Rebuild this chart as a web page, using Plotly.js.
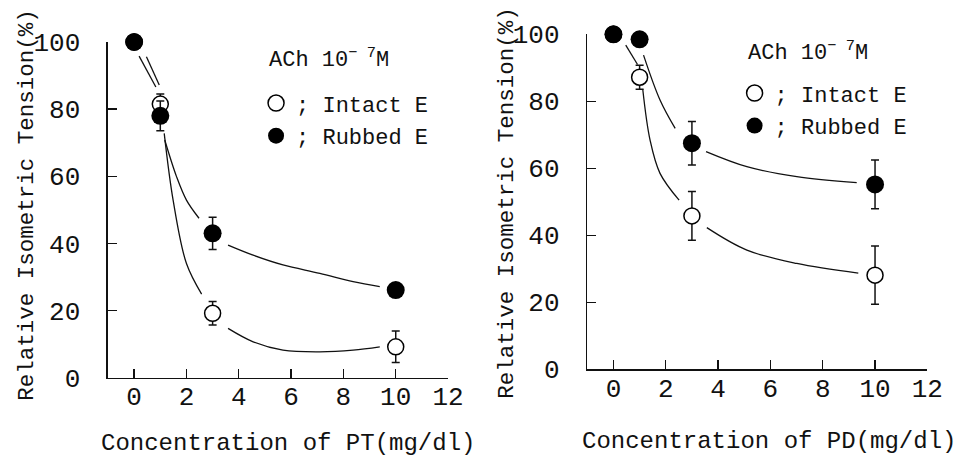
<!DOCTYPE html>
<html>
<head>
<meta charset="utf-8">
<script src="https://cdn.plot.ly/plotly-3.0.1.min.js"></script>
<style>html,body{margin:0;padding:0;background:#fff;}#chart{width:959px;height:457px;}</style>
</head>
<body>
<div id="chart"></div>
<script>
// ---- data ----
const conc = [0, 1, 3, 10];

// PT panel
const ptIntact = [100, 81.5, 19.2, 9.2];
const ptIntactErr = [0, 3, 3.5, 4.7];
const ptRubbed = [100, 78, 43, 26.1];
const ptRubbedErr = [0, 4.4, 4.8, 0];

// PD panel
const pdIntact = [100, 87.2, 45.8, 28.1];
const pdIntactErr = [0, 3.6, 7.3, 8.7];
const pdRubbed = [100, 98.5, 67.5, 55.2];
const pdRubbedErr = [0, 0, 6.5, 7.3];

// fitted curves (null = gap around markers)
const ptIntactCurveX = [0.19, 0.83, null, 1.15, 1.49, 2.0, 2.58, null, 3.59, 4.55, 5.69, 7.1, 8.37, 9.39];
const ptIntactCurveY = [95.8, 86.6, null, 72.8, 52.9, 34.0, 24.9, null, 14.7, 10.7, 8.2, 7.7, 8.2, 9.2];
const ptRubbedCurveX = [0.47, 0.96, null, 1.17, 1.62, 2.0, 2.48, null, 3.59, 4.55, 5.69, 7.1, 8.37, 9.39];
const ptRubbedCurveY = [95.6, 87.2, null, 70.8, 59.9, 52.9, 47.5, null, 39.5, 36.5, 33.6, 31.1, 28.6, 27.1];

const pdIntactCurveX = [0.47, 0.92, null, 1.12, 1.40, 1.78, 2.51, null, 3.57, 5.10, 7.01, 9.36];
const pdIntactCurveY = [96.8, 91.0, null, 83.6, 68.4, 58.5, 50.5, null, 42.3, 35.6, 31.6, 28.7];
const pdRubbedCurveX = [1.15, 1.78, 2.36, null, 3.54, 5.10, 7.01, 9.30];
const pdRubbedCurveY = [93.8, 80.4, 71.9, null, 65.0, 60.5, 57.5, 55.7];

const xTicks = [0, 2, 4, 6, 8, 10, 12];
const yTicks = [0, 20, 40, 60, 80, 100];
const xTitlePT = 'Concentration of PT(mg/dl)';
const xTitlePD = 'Concentration of PD(mg/dl)';
const yTitle = 'Relative Isometric Tension(%)';
const legendTitle = 'ACh 10<sup>\u2212 7</sup>M';
const nameIntact = '; Intact E';
const nameRubbed = '; Rubbed E';

// ---- build ----
const FONT = '"Courier New", "Liberation Mono", monospace';
function curve(x, y, xa, ya) {
  return {x: x, y: y, xaxis: xa, yaxis: ya, mode: 'lines', connectgaps: false,
    line: {color: '#111', width: 1.3, shape: 'spline', smoothing: 1}, showlegend: false, hoverinfo: 'skip'};
}
function pts(y, err, xa, ya, filled, name, leg) {
  return {x: conc, y: y, xaxis: xa, yaxis: ya, mode: 'markers', name: name, legend: leg,
    legendgroup: leg + name, cliponaxis: false,
    error_y: {type: 'data', array: err, visible: true, color: '#111', thickness: 1.5, width: 4},
    marker: {symbol: 'circle', size: filled ? 18 : 16, color: filled ? '#000' : '#fff',
      line: {color: '#000', width: filled ? 0 : 1.5}}};
}
const data = [
  curve(ptIntactCurveX, ptIntactCurveY, 'x', 'y'),
  curve(ptRubbedCurveX, ptRubbedCurveY, 'x', 'y'),
  curve(pdIntactCurveX, pdIntactCurveY, 'x2', 'y2'),
  curve(pdRubbedCurveX, pdRubbedCurveY, 'x2', 'y2'),
  pts(ptIntact, ptIntactErr, 'x', 'y', false, nameIntact, 'legend'),
  pts(ptRubbed, ptRubbedErr, 'x', 'y', true, nameRubbed, 'legend'),
  pts(pdIntact, pdIntactErr, 'x2', 'y2', false, nameIntact, 'legend2'),
  pts(pdRubbed, pdRubbedErr, 'x2', 'y2', true, nameRubbed, 'legend2')
];

function xax(dom, anchor) {
  return {domain: dom, anchor: anchor, range: [-1, 12], tickvals: xTicks, ticks: 'inside', ticklen: 9,
    tickwidth: 1.3, tickcolor: '#111', showline: true, linecolor: '#111', linewidth: 1.5,
    showgrid: false, zeroline: false, ticklabelstandoff: -5, tickfont: {family: FONT, size: 26, color: '#111'}};
}
function yax(dom, anchor) {
  return {domain: dom, anchor: anchor, range: [0, 100], tickvals: yTicks, ticks: 'inside', ticklen: 9,
    tickwidth: 1.3, tickcolor: '#111', showline: true, linecolor: '#111', linewidth: 1.5,
    showgrid: false, zeroline: false, ticklabelstandoff: 21, tickfont: {family: FONT, size: 26, color: '#111'}};
}
function leg(x, y) {
  return {x: x, y: y, xanchor: 'left', yanchor: 'top', bgcolor: 'rgba(0,0,0,0)', borderwidth: 0,
    font: {family: FONT, size: 22, color: '#111'}, tracegroupgap: 1, itemwidth: 30};
}
const ann = (text, x, y, angle, size, xanchor) => ({text: text, x: x, y: y, xref: 'paper', yref: 'paper', showarrow: false,
  xanchor: xanchor || 'center', yanchor: 'middle', textangle: angle, font: {family: FONT, size: size, color: '#111'}});

const layout = {
  width: 959, height: 457, margin: {l: 0, r: 0, t: 0, b: 0},
  paper_bgcolor: '#fff', plot_bgcolor: '#fff',
  xaxis: xax([0.1126, 0.4672], 'y'),
  yaxis: yax([0.1735, 0.9081], 'x'),
  xaxis2: xax([0.6124, 0.967], 'y2'),
  yaxis2: yax([0.1919, 0.9249], 'x2'),
  legend: leg(0.267, 0.82),
  legend2: leg(0.766, 0.842),
  annotations: [
    ann(yTitle, 0.028, 0.5514, -90, 22.5),
    ann(yTitle, 0.5285, 0.556, -90, 22.5),
    ann(xTitlePT, 0.3003, 0.0306, 0, 24),
    ann(xTitlePD, 0.8019, 0.034, 0, 24),
    ann(legendTitle, 0.278, 0.872, 0, 22, 'left'),
    ann(legendTitle, 0.778, 0.888, 0, 22, 'left')
  ]
};
Plotly.newPlot('chart', data, layout, {displayModeBar: false, staticPlot: true});
</script>
</body>
</html>
